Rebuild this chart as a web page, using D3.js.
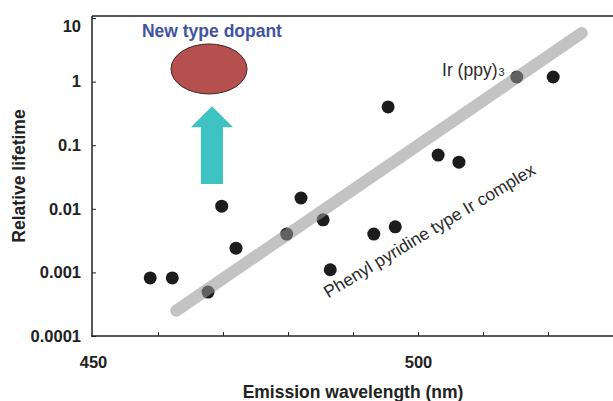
<!DOCTYPE html>
<html><head><meta charset="utf-8">
<script src="https://cdn.jsdelivr.net/npm/d3@7"></script>
<style>body{margin:0;background:#fff}svg{display:block}text{font-family:"Liberation Sans",Arial,sans-serif}</style>
</head><body><svg id="c" width="613" height="401"></svg>
<script>
// Data
const wavelength = [458.8,462.2,467.7,469.8,472.0,479.8,482.0,485.4,486.5,493.2,495.4,496.5,503.1,506.3,515.2,520.8];
const lifetime   = [0.00082,0.00082,0.00049,0.011,0.0024,0.0040,0.0148,0.0067,0.0011,0.0040,0.40,0.0052,0.070,0.054,1.18,1.18];
const trendWavelength = [462.8,525.2];
const trendLifetime   = [0.00025,5.8];
const yTickValues = [0.0001,0.001,0.01,0.1,1,10];
const yTickLabels = ["0.0001","0.001","0.01","0.1","1","10"];
const xTickValues = [450,460,470,480,490,500,510,520];
const xTickLabels = ["450","","","","","500","",""];
const xTitle = "Emission wavelength (nm)";
const yTitle = "Relative lifetime";

const svg = d3.select("#c");
const x = d3.scaleLinear().domain([450,530]).range([93,613]);
const y = d3.scaleLog().domain([1e-4,10]).range([336,18]);
const axisColor = "#222";

// Frame lines
svg.append("line").attr("x1",92).attr("x2",613).attr("y1",16).attr("y2",16).attr("stroke",axisColor).attr("stroke-width",1.5);
svg.append("line").attr("x1",92).attr("x2",92).attr("y1",16).attr("y2",336.75).attr("stroke",axisColor).attr("stroke-width",1.5);
svg.append("line").attr("x1",91.25).attr("x2",613).attr("y1",336).attr("y2",336).attr("stroke",axisColor).attr("stroke-width",1.5);

// Y axis
const gy = svg.append("g").attr("transform","translate(92,0)")
  .call(d3.axisLeft(y).tickValues(yTickValues).tickFormat((d,i)=>yTickLabels[i]).tickSizeInner(-4).tickSizeOuter(0).tickPadding(11));
gy.select(".domain").remove();
gy.selectAll(".tick line").attr("stroke",axisColor).attr("stroke-width",1);
gy.selectAll(".tick text").attr("fill",axisColor).style("font-size","16.5px").style("font-weight","bold").style("font-family","'Liberation Sans',Arial,sans-serif");
gy.selectAll(".tick").filter(d=>d===10).select("text").attr("dy","0.32em").attr("y",8);

// X axis
const gx = svg.append("g").attr("transform","translate(0,336)")
  .call(d3.axisBottom(x).tickValues(xTickValues).tickFormat((d,i)=>xTickLabels[i]).tickSizeInner(-4).tickSizeOuter(0).tickPadding(20));
gx.select(".domain").remove();
gx.selectAll(".tick line").attr("stroke",axisColor).attr("stroke-width",1);
gx.selectAll(".tick").filter(d=>d===450).select("line").remove();
gx.selectAll(".tick text").attr("fill",axisColor).style("font-size","16.5px").style("font-weight","bold").style("font-family","'Liberation Sans',Arial,sans-serif");

// Titles
svg.append("text").attr("x",353).attr("y",398).attr("text-anchor","middle")
  .style("font-size","17.5px").style("font-weight","bold").attr("fill",axisColor).text(xTitle);
svg.append("text").attr("transform","translate(25,176) rotate(-90)").attr("text-anchor","middle")
  .style("font-size","17.5px").style("font-weight","bold").attr("fill",axisColor).text(yTitle);

// Points
const pts = wavelength.map((w,i)=>({w, v: lifetime[i]}));
svg.append("g").selectAll("circle").data(pts).join("circle")
  .attr("cx",d=>x(d.w)).attr("cy",d=>y(d.v)).attr("r",6.5).attr("fill","#1c1c1c");

// Trend line (semi-transparent, drawn over points)
const trend = trendWavelength.map((w,i)=>[w, trendLifetime[i]]);
svg.append("path").datum(trend)
  .attr("d", d3.line().x(d=>x(d[0])).y(d=>y(d[1])))
  .attr("fill","none").attr("stroke","#969696").attr("stroke-opacity",0.57)
  .attr("stroke-width",12).attr("stroke-linecap","round");

// Annotations
svg.append("text").attr("x",x(468.3)).attr("y",37).attr("text-anchor","middle")
  .style("font-size","17.5px").style("font-weight","bold").attr("fill","#4253a4").text("New type dopant");

svg.append("ellipse").attr("cx",x(467.85)).attr("cy",y(1.58)).attr("rx",38).attr("ry",25)
  .attr("fill","#b5504e").attr("stroke","#3a2626").attr("stroke-width",1);

const tipX = x(468.3), tipY = y(0.41), baseY = y(0.0245);
const headLen = 21, headHalf = 21, shaftHalf = 11;
const arrowPts = [
  [tipX, tipY],
  [tipX+headHalf, tipY+headLen],
  [tipX+shaftHalf, tipY+headLen],
  [tipX+shaftHalf, baseY],
  [tipX-shaftHalf, baseY],
  [tipX-shaftHalf, tipY+headLen],
  [tipX-headHalf, tipY+headLen]
];
svg.append("polygon").attr("points", arrowPts.map(p=>p.join(",")).join(" ")).attr("fill","#3fc2c2");

const ir = svg.append("text").attr("x",x(503.7)).attr("y",y(1.22))
  .style("font-size","17.5px").attr("fill","#2a2a2a");
ir.append("tspan").text("Ir (ppy)");
ir.append("tspan").attr("dx",1).style("font-size","11px").text("3");

svg.append("text").attr("transform",`translate(${x(486.2)},${y(0.00039)}) rotate(-31)`)
  .style("font-size","17.5px").attr("fill","#2a2a2a").text("Phenyl pyridine type Ir complex");
</script>
</body></html>
